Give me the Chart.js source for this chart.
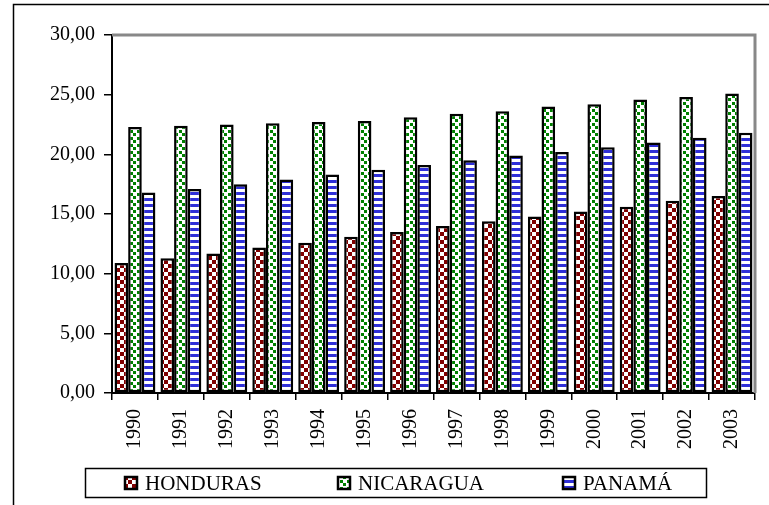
<!DOCTYPE html>
<html>
<head>
<meta charset="utf-8">
<script src="https://cdn.jsdelivr.net/npm/chart.js@4/dist/chart.umd.min.js"></script>
<style>
html,body{margin:0;padding:0;background:#fff;}
canvas{display:block;}
</style>
</head>
<body>
<canvas id="c" width="769" height="505"></canvas>
<script>
const years = ['1990','1991','1992','1993','1994','1995','1996','1997','1998','1999','2000','2001','2002','2003'];
const honduras = [10.9, 11.3, 11.7, 12.2, 12.6, 13.1, 13.5, 14.0, 14.4, 14.8, 15.2, 15.6, 16.1, 16.5];
const nicaragua = [22.3, 22.4, 22.5, 22.6, 22.7, 22.8, 23.1, 23.4, 23.6, 24.0, 24.2, 24.6, 24.8, 25.1];
const panama = [16.8, 17.1, 17.5, 17.9, 18.3, 18.7, 19.1, 19.5, 19.9, 20.2, 20.6, 21.0, 21.4, 21.8];
const seriesNames = ['HONDURAS', 'NICARAGUA', 'PANAMÁ'];
const yTicks = [0, 5, 10, 15, 20, 25, 30];

const FONT = '"Liberation Serif", "Times New Roman", serif';
const canvas = document.getElementById('c');
const ctx = canvas.getContext('2d');

function makeTile(w, h, draw) {
  const t = document.createElement('canvas');
  t.width = w; t.height = h;
  const c = t.getContext('2d');
  c.fillStyle = '#fff'; c.fillRect(0, 0, w, h);
  draw(c);
  return ctx.createPattern(t, 'repeat');
}
const checker = makeTile(8, 8, c => {
  c.fillStyle = '#800000';
  c.fillRect(0, 0, 4, 4); c.fillRect(4, 4, 4, 4);
});
const dots = makeTile(7, 7, c => {
  c.fillStyle = '#008000';
  c.fillRect(0, 0, 3, 3); c.fillRect(4, 4, 3, 3);
});
const stripes = makeTile(6, 6, c => {
  c.fillStyle = '#2f2fd8';
  c.fillRect(0, 0, 6, 3);
});
const patterns = [checker, dots, stripes];

const framePlugin = {
  id: 'frame',
  afterDatasetsDraw(chart) {
    const c = chart.ctx, a = chart.chartArea;
    c.save();
    c.strokeStyle = '#888';
    c.lineWidth = 3;
    c.beginPath();
    c.moveTo(a.left, a.top);
    c.lineTo(a.right, a.top);
    c.lineTo(a.right, a.bottom);
    c.stroke();
    c.restore();
  },
  afterDraw(chart) {
    const c = chart.ctx;
    c.save();
    c.strokeStyle = '#000';
    c.lineWidth = 1.5;
    c.beginPath();
    c.moveTo(769, 4.5);
    c.lineTo(13.5, 4.5);
    c.lineTo(13.5, 505);
    c.stroke();
    c.lineWidth = 1.5;
    c.strokeRect(85.5, 468.5, 621, 29);
    const starts = [125, 338, 563];
    c.font = '21px ' + FONT;
    c.textBaseline = 'middle';
    c.textAlign = 'left';
    chart.data.datasets.forEach((ds, i) => {
      const x = starts[i], y = 477;
      c.fillStyle = ds.backgroundColor;
      c.fillRect(x, y, 12, 12);
      c.strokeStyle = '#000';
      c.lineWidth = 2.5;
      c.strokeRect(x, y, 12, 12);
      c.fillStyle = '#000';
      c.fillText(ds.label, x + 20, 484);
    });
    c.restore();
  }
};

new Chart(ctx, {
  type: 'bar',
  data: {
    labels: years,
    datasets: [
      { label: seriesNames[0], data: honduras },
      { label: seriesNames[1], data: nicaragua },
      { label: seriesNames[2], data: panama }
    ].map((d, i) => Object.assign(d, {
      backgroundColor: patterns[i],
      borderColor: '#000',
      borderWidth: 2.5,
      borderSkipped: false,
      categoryPercentage: 0.89,
      barPercentage: 1.0
    }))
  },
  options: {
    responsive: false,
    animation: false,
    devicePixelRatio: 1,
    layout: { padding: { left: 0, top: 35, right: 14, bottom: 0 } },
    plugins: {
      legend: { display: false },
      tooltip: { enabled: false }
    },
    scales: {
      x: {
        grid: { display: true, drawOnChartArea: false, drawTicks: true, tickLength: 7, color: '#000', lineWidth: 1.5, offset: true },
        border: { display: true, color: '#000', width: 2 },
        ticks: {
          color: '#000',
          font: { family: FONT, size: 20 },
          minRotation: 90, maxRotation: 90,
          autoSkip: false,
          padding: 9
        },
        afterFit(s) { s.height = 112; }
      },
      y: {
        min: 0, max: 30,
        afterBuildTicks(s) { s.ticks = yTicks.map(v => ({ value: v })); },
        grid: { display: true, drawOnChartArea: false, drawTicks: true, tickLength: 8, color: '#000', lineWidth: 1.5 },
        border: { display: true, color: '#000', width: 2 },
        ticks: {
          color: '#000',
          font: { family: FONT, size: 20 },
          padding: 9,
          callback: v => Number(v).toFixed(2).replace('.', ',')
        },
        afterFit(s) { s.width = 112; }
      }
    }
  },
  plugins: [framePlugin]
});
</script>
</body>
</html>
